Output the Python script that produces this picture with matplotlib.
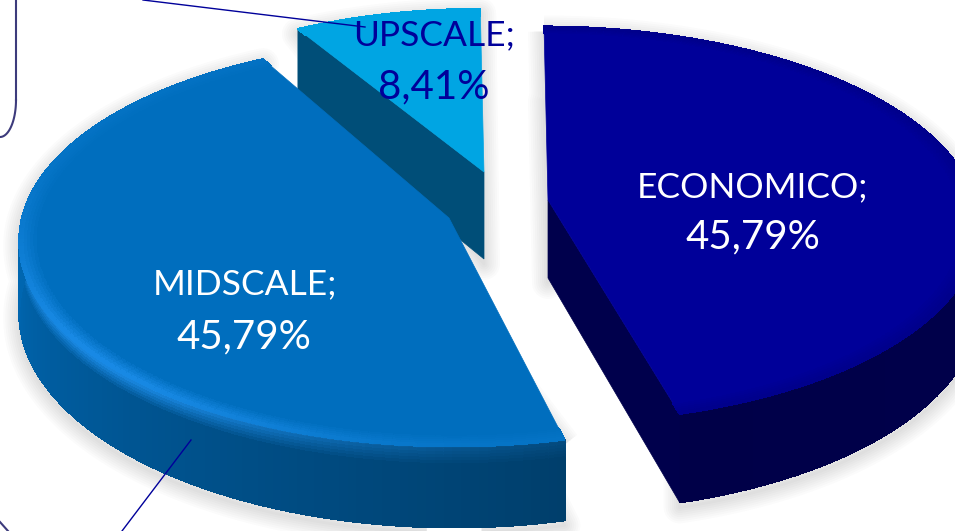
import numpy as np
import matplotlib
matplotlib.use("Agg")
import matplotlib.pyplot as plt
from matplotlib.collections import PolyCollection
from matplotlib.colors import to_rgb
from matplotlib.patches import Polygon

# data
categories = ["ECONOMICO", "MIDSCALE", "UPSCALE"]
values = [45.79, 45.79, 8.41]

# styles / layout
top_colors = ["#000099", "#006EBE", "#00A5E3"]
rim_colors = ["#00007A", "#1E90EE", "#00A5E3"]
side_near = ["#000050", "#0066B0", "#005A88"]
side_far = ["#000048", "#003F6C", "#004E78"]
cut_colors = ["#00004C", None, "#004E78"]
cut_edge = ["end", None, "start"]
apex = [(548, 200), (449, 218), (484, 172)]
scales = [1.0, 1.0, 0.94]
scales_y = [1.0, 1.026, 0.94]
rotation = [0.0, np.radians(2.0), 0.0]
depths = [78, 71, 87]
text_colors = ["white", "white", "#00009A"]
label_xy = [(752, 187), (245, 284), (434, 35)]
value_xy = [(753, 237), (244, 337), (434, 87)]
A, B, P, S = 427.0, 195.0, 0.124, 0.023

plt.rcParams["font.family"] = ["Lato", "DejaVu Sans"]

fig = plt.figure(figsize=(9.55, 5.31), dpi=100)
ax = fig.add_axes([0, 0, 1, 1])
ax.set_xlim(0, 955)
ax.set_ylim(531, 0)
ax.axis("off")


def project(i, r, th, z=0.0):
    th = th + rotation[i]
    u, v = r * np.sin(th), r * np.cos(th)
    w = 1 + P * v
    dy = -scales_y[i] * B * v / w
    x = apex[i][0] + scales[i] * A * u / w + S * dy
    y = apex[i][1] + dy + z * depths[i] / w
    return x, y


def mix(c1, c2, t):
    c1, c2 = np.array(to_rgb(c1)), np.array(to_rgb(c2))
    return tuple(c1 + (c2 - c1) * t)


def glow(a):
    return float(np.exp(-((a - 0.38) / 0.22) ** 2) * 0.85 + 0.12)


fractions = np.array(values) / np.sum(values)
edges = np.concatenate([[0], np.cumsum(fractions)]) * 2 * np.pi

# frame behind the pie
ax.plot([16, 16], [0, 100], color="#3D3B7C", lw=1.5, zorder=1)
t = np.linspace(0, np.pi / 2, 30)
ax.plot(16 - 16 * (1 - np.cos(t)), 100 + 37 * np.sin(t), color="#3D3B7C", lw=1.5, zorder=1)
ax.plot([0, 8], [522, 531], color="#3D3B7C", lw=1.5, zorder=1)

order = [2, 0, 1]
for n, i in enumerate(order):
    base = 10 + n * 10
    th = np.linspace(edges[i], edges[i + 1], 160)
    tx, ty = project(i, 1, th)
    bx, by = project(i, 1, th, 1)
    ax0, ay0 = project(i, 0, 0.0)
    ax1, ay1 = project(i, 0, 0.0, 1)

    # soft shadow
    if i == 0:
        pts = np.column_stack([np.r_[tx, bx[::-1], ax1, ax0], np.r_[ty, by[::-1], ay1, ay0]])
    else:
        vis = np.cos(th) < 0.5
        pts = np.column_stack([np.r_[tx, bx[vis][::-1], ax1], np.r_[ty, by[vis][::-1], ay1]])
    for lw in np.arange(2, 26, 3):
        ax.add_patch(Polygon(pts + [0, 5], closed=True, fc="none", ec="#606060",
                             lw=lw, alpha=0.022, joinstyle="round", zorder=base))

    # outer side, shaded along the arc and down the wall
    polys, cols = [], []
    zs = np.r_[np.linspace(0, 0.22, 7), 0.5, 1.0]
    arc = (th - th.min()) / (th.max() - th.min())
    for j in range(len(th) - 1):
        if np.cos(th[j]) > 0.5:
            continue
        for k in range(len(zs) - 1):
            x00, y00 = project(i, 1, th[j], zs[k])
            x10, y10 = project(i, 1, th[j + 1], zs[k])
            x11, y11 = project(i, 1, th[j + 1], zs[k + 1])
            x01, y01 = project(i, 1, th[j], zs[k + 1])
            polys.append([(x00, y00), (x10, y10), (x11, y11), (x01, y01)])
            a = arc[j]
            if i == 1:
                body = mix(side_far[i], side_near[i], min(1, a / 0.6))
            elif i == 0:
                body = mix(side_near[i], side_far[i], a)
            else:
                body = to_rgb(side_far[i])
            f = max(0, 1 - zs[k] / 0.22)
            if i == 1:
                cols.append(mix(body, rim_colors[i], f * glow(a)))
            else:
                cols.append(body)
    ax.add_collection(PolyCollection(polys, facecolors=cols, edgecolors=cols, lw=0.8,
                                     antialiaseds=False, zorder=base + 1))

    # cut face
    if cut_edge[i]:
        e = th[-1] if cut_edge[i] == "end" else th[0]
        ex, ey = project(i, 1, e)
        fx, fy = project(i, 1, e, 1)
        ax.add_patch(Polygon([(ax0, ay0), (ex, ey), (fx, fy), (ax1, ay1)], closed=True,
                             fc=cut_colors[i], ec=cut_colors[i], lw=0.5, zorder=base + 2))

    # top face
    rim = 0.955
    rx, ry = project(i, rim, th)
    ax.add_patch(Polygon(np.column_stack([np.r_[ax0, rx], np.r_[ay0, ry]]), closed=True,
                         fc=top_colors[i], ec=top_colors[i], lw=0.5, zorder=base + 3))
    polys, cols = [], []
    rs = np.linspace(rim, 1, 7)
    for j in range(len(th) - 1):
        for k in range(len(rs) - 1):
            x00, y00 = project(i, rs[k], th[j])
            x10, y10 = project(i, rs[k], th[j + 1])
            x11, y11 = project(i, rs[k + 1], th[j + 1])
            x01, y01 = project(i, rs[k + 1], th[j])
            polys.append([(x00, y00), (x10, y10), (x11, y11), (x01, y01)])
            f = (rs[k] - rim) / (1 - rim)
            if i == 1:
                f *= glow(arc[j])
            elif i == 0:
                f *= 0.5
            cols.append(mix(top_colors[i], rim_colors[i], f))
    ax.add_collection(PolyCollection(polys, facecolors=cols, edgecolors=cols, lw=0.8,
                                     antialiaseds=False, zorder=base + 4))

# leader lines
ax.plot([143, 365], [0, 27], color="#00009A", lw=1.0, zorder=50)
ax.plot([191, 122], [440, 531], color="#00009A", lw=1.0, zorder=50)

# labels
for i, name in enumerate(categories):
    ax.text(*label_xy[i], f"{name};", color=text_colors[i], fontsize=25.5, ha="center", va="center", zorder=60)
    ax.text(*value_xy[i], f"{values[i]:.2f}%".replace(".", ","), color=text_colors[i], fontsize=29,
            ha="center", va="center", zorder=60)

fig.savefig("out.png", dpi=100, facecolor="white")
